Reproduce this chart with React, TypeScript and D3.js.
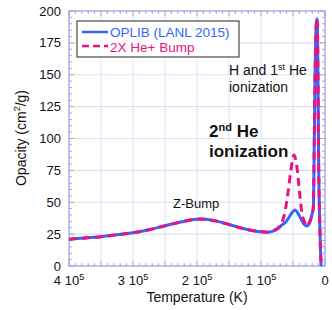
import React from 'react';
import * as d3 from 'd3';

// temperature (K), ordered from hot to cold so the screen x grows along the path
const tempsOplib = [400000, 375000, 350000, 325000, 300000, 275000, 250000, 225000, 205000, 195000, 175000, 150000, 125000, 110000, 100000, 90000, 80000, 72000, 67700, 61000, 57300, 52000, 46900, 42500, 38000, 33000, 27600, 23500, 20500, 18200, 16800, 15500, 13800, 12800, 11800, 10800, 9900, 8500, 7000, 6000];
const opacityOplib = [21, 22, 23, 24.5, 26.1, 28.5, 31.6, 34.5, 36.5, 36.8, 35.8, 32.5, 29, 27.5, 26.8, 26.5, 27.5, 30, 32, 34.7, 37.4, 41.5, 44, 41.5, 37.4, 33, 31.4, 35, 40, 46, 95, 150, 188, 194, 185, 140, 80, 40, 12, 0];

const tempsBump = [400000, 375000, 350000, 325000, 300000, 275000, 250000, 225000, 205000, 195000, 175000, 150000, 125000, 110000, 100000, 90000, 80000, 72000, 67700, 62500, 57300, 53000, 48400, 44000, 40100, 36400, 31250, 27600, 23500, 20500, 18200, 16800, 15500, 13800, 12800, 11800, 10800, 9900, 8500, 7000, 6000];
const opacityBump = [21, 22, 23, 24.5, 26.1, 28.5, 31.6, 34.5, 36.5, 36.8, 35.8, 32.5, 29, 27.5, 26.8, 26.5, 28, 30.5, 33.7, 42.6, 59.6, 76, 87, 78, 59.6, 42.6, 33.7, 31.4, 35, 40, 46, 95, 150, 188, 194, 185, 140, 80, 40, 12, 0];

const xTicks = [400000, 300000, 200000, 100000, 0];
const xTickMantissa = ['4', '3', '2', '1', '0'];
const yTicks = [0, 25, 50, 75, 100, 125, 150, 175, 200];

const W = 332;
const H = 310;
const FONT = '"Liberation Sans", Arial, sans-serif';
const BLUE = '#3366ff';
const PINK = '#e8137d';
const FRAME = '#a3a3e0';
const GRID = '#dedef6';

export default function App() {
  const x = d3.scaleLinear().domain([400000, 0]).range([69, 325]);
  const y = d3.scaleLinear().domain([0, 200]).range([266, 11]);
  const [x0, x1] = x.range();
  const [yb, yt] = y.range();

  const line = d3
    .line<[number, number]>()
    .x(d => x(d[0]))
    .y(d => y(d[1]))
    .curve(d3.curveMonotoneX);

  const oplib = line(tempsOplib.map((t, i) => [t, opacityOplib[i]]) as [number, number][]) || '';
  const bump = line(tempsBump.map((t, i) => [t, opacityBump[i]]) as [number, number][]) || '';

  const xGrid = d3.range(0, 400001, 50000);
  const xMinor = d3.range(0, 400001, 10000);
  const yMinor = d3.range(0, 201, 5);

  return (
    <div style={{ position: 'absolute', left: 0, top: 0 }}>
      <svg width={W} height={H} style={{ display: 'block', background: '#fff' }} fontFamily={FONT}>
        {/* grid */}
        {xGrid.map(t => (
          <line key={'gx' + t} x1={x(t)} x2={x(t)} y1={yt} y2={yb} stroke={GRID} strokeWidth={1} />
        ))}
        {yTicks.map(v => (
          <line key={'gy' + v} x1={x0} x2={x1} y1={y(v)} y2={y(v)} stroke={GRID} strokeWidth={1.2} />
        ))}

        {/* minor ticks, all four sides, pointing in */}
        {xMinor.map(t => {
          const len = t % 50000 === 0 ? 5 : 3;
          return (
            <g key={'mx' + t} stroke={FRAME} strokeWidth={1}>
              <line x1={x(t)} x2={x(t)} y1={yb} y2={yb - len} />
              <line x1={x(t)} x2={x(t)} y1={yt} y2={yt + len} />
            </g>
          );
        })}
        {yMinor.map(v => {
          const len = v % 25 === 0 ? 5 : 3;
          return (
            <g key={'my' + v} stroke={FRAME} strokeWidth={1}>
              <line x1={x0} x2={x0 + len} y1={y(v)} y2={y(v)} />
              <line x1={x1} x2={x1 - len} y1={y(v)} y2={y(v)} />
            </g>
          );
        })}

        <rect x={x0} y={yt} width={x1 - x0} height={yb - yt} fill="none" stroke={FRAME} strokeWidth={1.2} />

        {/* curves */}
        <path d={oplib} fill="none" stroke={BLUE} strokeWidth={3} strokeLinejoin="round" />
        <path d={bump} fill="none" stroke={PINK} strokeWidth={3} strokeDasharray="8,5" strokeLinejoin="round" />

        {/* y tick labels */}
        {yTicks.map(v => (
          <text key={'ty' + v} x={61} y={y(v) + 4.5} fontSize={13} textAnchor="end" fill="#111">
            {v}
          </text>
        ))}

        {/* x tick labels */}
        {xTicks.map((t, i) => (
          <text key={'tx' + t} x={x(t)} y={284.5} fontSize={13} textAnchor="middle" fill="#111">
            {t === 0 ? (
              '0'
            ) : (
              <>
                {xTickMantissa[i] + ' 10'}
                <tspan fontSize={9} dy={-5}>5</tspan>
              </>
            )}
          </text>
        ))}

        {/* axis titles */}
        <text x={(x0 + x1) / 2} y={302} fontSize={14} textAnchor="middle" fill="#111">
          Temperature (K)
        </text>
        <text transform="translate(26,138) rotate(-90)" fontSize={14} textAnchor="middle" fill="#111">
          Opacity (cm<tspan fontSize={9} dy={-6}>2</tspan>
          <tspan dy={6}>/g)</tspan>
        </text>

        {/* legend */}
        <rect x={77} y={21} width={162} height={36} fill="#fff" stroke="#222" strokeWidth={1} />
        <line x1={82} x2={108} y1={32} y2={32} stroke={BLUE} strokeWidth={2.5} />
        <line x1={82} x2={108} y1={46} y2={46} stroke={PINK} strokeWidth={2.5} strokeDasharray="7,4" />
        <text x={110} y={36.5} fontSize={13.5} fill={BLUE}>OPLIB (LANL 2015)</text>
        <text x={110} y={51.5} fontSize={13.5} fill={PINK}>2X He+ Bump</text>

        {/* annotations */}
        <text x={229} y={75} fontSize={14} fill="#111">
          H and 1<tspan fontSize={9} dy={-5}>st</tspan>
          <tspan dy={5}> He</tspan>
        </text>
        <text x={229} y={92} fontSize={14} fill="#111">ionization</text>
        <text x={209} y={137} fontSize={17} fontWeight="bold" fill="#111">
          2<tspan fontSize={11} dy={-6}>nd</tspan>
          <tspan dy={6}> He</tspan>
        </text>
        <text x={209} y={157} fontSize={17} fontWeight="bold" fill="#111">ionization</text>
        <text x={173} y={208} fontSize={13} fill="#111">Z-Bump</text>
      </svg>
    </div>
  );
}
